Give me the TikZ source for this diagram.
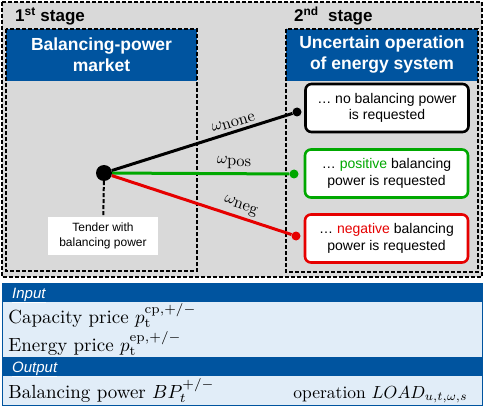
\documentclass[tikz,border=0pt]{standalone}
\usepackage{fontspec}
\newfontfamily\arial{Liberation Sans}
\definecolor{hblue}{HTML}{00549F}
\definecolor{lblue}{HTML}{E1EDF8}
\definecolor{bggray}{HTML}{D9D9D9}
\definecolor{bpgreen}{HTML}{00A800}
\definecolor{bpred}{HTML}{E60000}
\begin{document}
\begin{tikzpicture}[x=1pt,y=-1pt,
  stagedash/.style={draw=black, line width=2pt, dash pattern=on 4pt off 2pt},
  header/.style={fill=hblue, text=white, font=\arial\bfseries\fontsize{17.5}{21}\selectfont, align=center, inner sep=0pt},
  outcome/.style={draw=#1, fill=white, line width=2.6pt, rounded corners=6pt, minimum width=163pt, minimum height=48pt, align=center, font=\arial\fontsize{14}{16.5}\selectfont, inner sep=0pt},
  bigdot/.style={circle, fill=black, minimum size=16pt, inner sep=0pt},
  smalldot/.style={circle, fill=#1, minimum size=9pt, inner sep=0pt},
  branch/.style={line width=3pt, draw=#1},
  omlabel/.style={sloped, above, scale=1.65, inner sep=1.2pt},
  tabtext/.style={scale=1.9, inner sep=0pt},
  tabhead/.style={text=white, font=\arial\itshape\fontsize{15}{18}\selectfont, inner sep=0pt},
  stagelabel/.style={font=\arial\bfseries\fontsize{17}{20}\selectfont, inner sep=0pt}
]
\useasboundingbox (0,0) rectangle (484,406);
% background and stage frames
\fill[bggray] (2,2) rectangle (482,277);
\node[header, minimum width=191pt, minimum height=52pt] (lh) at (101.5,55) {Balancing-power\\market};
\node[header, minimum width=192pt, minimum height=52pt] (rh) at (382,55) {Uncertain operation\\of energy system};
\draw[stagedash] (2,2) rectangle (482,277);
\draw[stagedash] (6,29) rectangle (197,271);
\draw[stagedash] (286,29) rectangle (478,272);
\node[stagelabel, anchor=base west] (s1) at (15,22) {1\textsuperscript{st} stage};
\node[stagelabel, anchor=base west] (s2) at (294,22) {2\textsuperscript{nd}\ \ stage};
% outcomes
\node[outcome=black] (onone) at (387,108) {\dots\ no balancing power\\is requested};
\node[outcome=bpgreen] (opos) at (386.5,173.5) {\dots\ \textcolor{bpgreen}{positive} balancing\\power is requested};
\node[outcome=bpred] (oneg) at (386.5,238.5) {\dots\ \textcolor{bpred}{negative} balancing\\power is requested};
% tender
\node[fill=white, minimum width=110pt, minimum height=38pt, align=center, inner sep=0pt, font=\arial\fontsize{12}{15}\selectfont] (tender) at (103,236) {Tender with\\balancing power};
\node[bigdot] (c) at (104,173) {};
\draw[stagedash] (c) -- (tender);
\node[smalldot=black] (e1) at (297,112) {};
\node[smalldot=bpgreen] (e2) at (294,174) {};
\node[smalldot=bpred] (e3) at (296,236) {};
\draw[branch=black] (c) -- (e1) node[omlabel, pos=0.69] (l1) {$\omega_{\textstyle\mathrm{none}}$};
\draw[branch=bpgreen] (c) -- (e2) node[omlabel, pos=0.69] (l2) {$\omega_{\textstyle\mathrm{pos}}$};
\draw[branch=bpred] (c) -- (e3) node[omlabel, pos=0.70] (l3) {$\omega_{\textstyle\mathrm{neg}}$};
% table
\fill[hblue] (2,283) rectangle (482,302);
\fill[lblue] (2,302) rectangle (482,357);
\fill[hblue] (2,357) rectangle (482,376);
\fill[lblue] (2,376) rectangle (482,405);
\draw[hblue, line width=1pt] (2,283) rectangle (482,405);
\node[tabhead, anchor=base west] (tin) at (12,298) {\underline{Input}};
\node[tabhead, anchor=base west] (tout) at (12,372) {\underline{Output}};
\node[tabtext, anchor=base west] (cp) at (8,323) {Capacity price $p_{\mathrm{t}}^{\mathrm{cp},+/-}$};
\node[tabtext, anchor=base west] (ep) at (8,351) {Energy price $p_{\mathrm{t}}^{\mathrm{ep},+/-}$};
\node[tabtext, anchor=base west] (bp) at (8,398) {Balancing power $BP_t^{+/-}$};
\node[tabtext, scale=0.92, anchor=base east] (op) at (468,398) {operation $LOAD_{u,t,\omega,s}$};
\end{tikzpicture}
\end{document}
